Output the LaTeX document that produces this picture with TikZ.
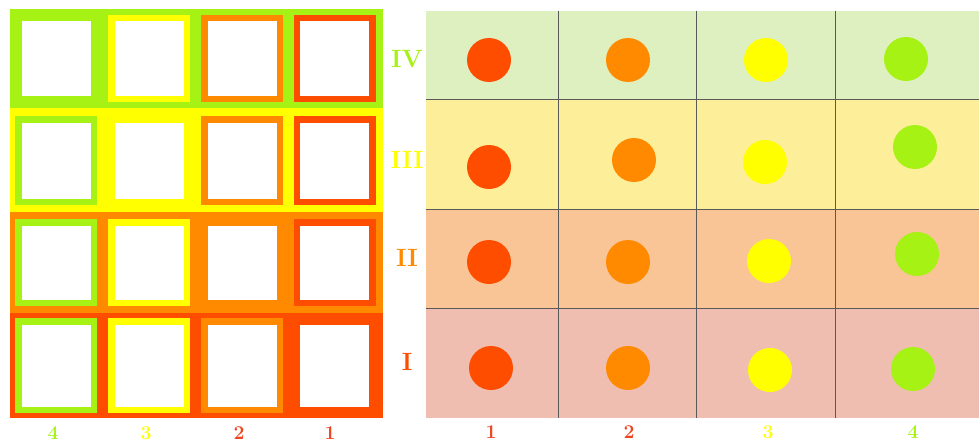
\documentclass[tikz,border=0pt]{standalone}
\usepackage{fontspec}
\usepackage{xcolor}
\usepackage{tikz}
\definecolor{cLime}{HTML}{A6F214}
\definecolor{cYel}{HTML}{FFFF00}
\definecolor{cOrg}{HTML}{FF8A00}
\definecolor{cRed}{HTML}{FF4D00}
\definecolor{tRed}{HTML}{EE4420}
\definecolor{pLime}{HTML}{DFF0C0}
\definecolor{pYel}{HTML}{FDEE9A}
\definecolor{pOrg}{HTML}{F9C597}
\definecolor{pRed}{HTML}{F0BEB1}
\tikzset{
  sq/.style={draw=#1,line width=6.5pt,fill=white,minimum width=75.5pt,minimum height=80.5pt,inner sep=0pt},
  dot/.style={circle,fill=#1,minimum size=44pt,inner sep=0pt},
  rom/.style={text=#1,font=\fontsize{25}{25}\selectfont\bfseries,inner sep=0pt},
  num/.style={text=#1,font=\fontsize{19.5}{19.5}\selectfont\bfseries,inner sep=0pt},
  cellrule/.style={draw=black!65,line width=0.9pt}
}

\begin{document}
\begin{tikzpicture}[x=1pt,y=-1pt]
\useasboundingbox (0,0) rectangle (979,444);
% left panel
\fill[cLime] (10,9) rectangle (383,108);
\fill[cYel] (10,108) rectangle (383,212);
\fill[cOrg] (10,212) rectangle (383,313);
\fill[cRed] (10,313) rectangle (383,418);
\node[sq=cLime] (a44) at (56,58.5) {}; \node[sq=cYel] (a34) at (149,58.5) {};
\node[sq=cOrg] (a24) at (242,58.5) {}; \node[sq=cRed] (a14) at (334.5,58.5) {};
\node[sq=cLime,minimum height=82.5pt] (a43) at (56,160.5) {}; \node[sq=cYel,minimum height=82.5pt] (a33) at (149,160.5) {};
\node[sq=cOrg,minimum height=82.5pt] (a23) at (242,160.5) {}; \node[sq=cRed,minimum height=82.5pt] (a13) at (334.5,160.5) {};
\node[sq=cLime] (a42) at (56,262.5) {}; \node[sq=cYel] (a32) at (149,262.5) {};
\node[sq=cOrg] (a22) at (242,262.5) {}; \node[sq=cRed] (a12) at (334.5,262.5) {};
\node[sq=cLime,minimum height=88.5pt] (a41) at (56,365.5) {}; \node[sq=cYel,minimum height=88.5pt] (a31) at (149,365.5) {};
\node[sq=cOrg,minimum height=88.5pt] (a21) at (242,365.5) {}; \node[sq=cRed,minimum height=88.5pt] (a11) at (334.5,365.5) {};
\node[num=cLime] (nl4) at (53,433.5) {4}; \node[num=cYel] (nl3) at (146,433.5) {3};
\node[num=tRed] (nl2) at (239,433.5) {2}; \node[num=tRed] (nl1) at (330,433.5) {1};
% row labels
\node[rom=cLime] (rIV) at (407,59) {IV};
\node[rom=cYel] (rIII) at (407,160) {III};
\node[rom=cOrg] (rII) at (407,258) {II};
\node[rom=cRed] (rI) at (407,362) {I};
% right panel
\fill[pLime] (426,11) rectangle (979,99);
\fill[pYel] (426,99) rectangle (979,209);
\fill[pOrg] (426,209) rectangle (979,308);
\fill[pRed] (426,308) rectangle (979,418);
\draw[cellrule] (426,99) -- (979,99); \draw[cellrule] (426,209) -- (979,209); \draw[cellrule] (426,308) -- (979,308);
\draw[cellrule] (558,11) -- (558,418); \draw[cellrule] (696,11) -- (696,418); \draw[cellrule] (835,11) -- (835,418);
\node[dot=cRed] (b14) at (489,60) {}; \node[dot=cOrg] (b24) at (628,60) {};
\node[dot=cYel] (b34) at (766,60) {}; \node[dot=cLime] (b44) at (906,59) {};
\node[dot=cRed] (b13) at (489,167) {}; \node[dot=cOrg] (b23) at (634,160) {};
\node[dot=cYel] (b33) at (765,162) {}; \node[dot=cLime] (b43) at (915,147) {};
\node[dot=cRed] (b12) at (489,262) {}; \node[dot=cOrg] (b22) at (628,262) {};
\node[dot=cYel] (b32) at (769,261) {}; \node[dot=cLime] (b42) at (917,254) {};
\node[dot=cRed] (b11) at (491,368) {}; \node[dot=cOrg] (b21) at (628,368) {};
\node[dot=cYel] (b31) at (770,370) {}; \node[dot=cLime] (b41) at (913,369) {};
\node[num=tRed] (nr1) at (491,432.5) {1}; \node[num=tRed] (nr2) at (629,432.5) {2};
\node[num=cYel] (nr3) at (768,432.5) {3}; \node[num=cLime] (nr4) at (913,432.5) {4};
\end{tikzpicture}
\end{document}
